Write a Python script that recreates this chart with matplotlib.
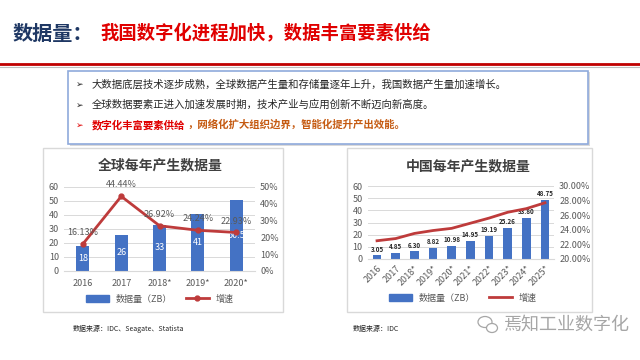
import matplotlib.pyplot as plt
import matplotlib.patches as mpatches
from matplotlib.lines import Line2D
from matplotlib.ticker import FuncFormatter

plt.rcParams['font.family'] = ['Noto Sans CJK SC', 'DejaVu Sans']

# 全球每年产生数据量
g_years = ['2016', '2017', '2018*', '2019*', '2020*']
g_volume = [18, 26, 33, 41, 50.5]
g_growth = [16.13, 44.44, 26.92, 24.24, 22.93]

# 中国每年产生数据量
c_years = ['2016', '2017', '2018*', '2019*', '2020*', '2021*', '2022*', '2023*', '2024*', '2025*']
c_volume = [3.05, 4.85, 6.30, 8.82, 10.98, 14.95, 19.19, 25.26, 33.80, 48.75]
c_growth = [22.5, 22.8, 23.5, 23.9, 24.2, 24.9, 25.6, 26.4, 26.9, 27.7]

bullets = ['大数据底层技术逐步成熟，全球数据产生量和存储量逐年上升，我国数据产生量加速增长。',
           '全球数据要素正进入加速发展时期，技术产业与应用创新不断迈向新高度。']

BLUE = '#4472C4'
RED = '#BE3B3B'
GRAY = '#595959'
W, H = 640, 360

fig = plt.figure(figsize=(6.4, 3.6), dpi=100)


def px(x, y):
    return x / W, 1 - y / H


def rect(x0, y0, x1, y1):
    return [x0 / W, 1 - y1 / H, (x1 - x0) / W, (y1 - y0) / H]


# 标题
fig.text(*px(13, 33), '数据量：', color='#1F3864', fontsize=14.5, fontweight='bold', va='center')
fig.text(*px(100, 33), '我国数字化进程加快，数据丰富要素供给', color='#E00000',
         fontsize=13.2, fontweight='bold', va='center')
fig.add_artist(Line2D([0, 1], [1 - 64 / H] * 2, color='#C00000', lw=2))
fig.add_artist(Line2D([0, 1], [1 - 66.5 / H] * 2, color='#BFBFBF', lw=0.8))

# 文字框
fig.add_artist(mpatches.Rectangle(px(70, 146), 520 / W, 74 / H, facecolor='#D9D9D9',
                                  edgecolor='none'))
fig.add_artist(mpatches.Rectangle(px(68, 144), 520 / W, 73 / H, facecolor='white',
                                  edgecolor='#8FAADC', lw=1.2))
for i, t in enumerate(bullets):
    y = 84 + i * 21
    fig.text(*px(76, y), '➢', color='#262626', fontsize=6.5, va='center',
             family=['DejaVu Sans'])
    fig.text(*px(92, y), t, color='#262626', fontsize=7.5, va='center')
fig.text(*px(76, 125), '➢', color='#E00000', fontsize=6.5, va='center', family=['DejaVu Sans'])
fig.text(*px(92, 125), '数字化丰富要素供给', color='#E00000', fontsize=7.5,
         fontweight='bold', va='center')
fig.text(*px(187, 125), '，网络化扩大组织边界，智能化提升产出效能。', color='#C55A11',
         fontsize=7.5, fontweight='bold', va='center')

# 图表边框
for x0, x1 in [(43, 283), (347, 592)]:
    fig.add_artist(mpatches.Rectangle(px(x0, 312), (x1 - x0) / W, 164 / H,
                                      facecolor='white', edgecolor='#D9D9D9', lw=1,
                                      zorder=-1))


def style(ax, ax2):
    for a in (ax, ax2):
        a.set_facecolor('none')
        for s in a.spines.values():
            s.set_visible(False)
        a.tick_params(length=0, colors=GRAY, labelsize=6.5)
    ax.set_axisbelow(True)
    ax.yaxis.grid(True, color='#D9D9D9', lw=0.7)
    ax.spines['bottom'].set_visible(True)
    ax.spines['bottom'].set_color('#D9D9D9')
    ax.set_ylim(0, 60)
    ax.set_yticks(range(0, 61, 10))


# 左图
ax = fig.add_axes(rect(63.8, 187, 255.3, 271))
ax2 = ax.twinx()
xs = range(len(g_years))
bars = ax.bar(xs, g_volume, width=0.34, color=BLUE, zorder=2)
ax.bar_label(bars, labels=[f'{v:g}' for v in g_volume], label_type='center',
             color='white', fontsize=6.5)
ax2.plot(xs, g_growth, color=RED, lw=2, marker='o', ms=3.5, zorder=3)
for x, v in zip(xs, g_growth):
    ax2.annotate(f'{v:.2f}%', (x, v), xytext=(0, 5), textcoords='offset points',
                 ha='center', va='bottom', color=GRAY, fontsize=6.5)
ax.set_xlim(-0.5, len(g_years) - 0.5)
ax.set_xticks(list(xs))
ax.set_xticklabels(g_years)
ax2.set_ylim(0, 50)
ax2.set_yticks(range(0, 51, 10))
ax2.yaxis.set_major_formatter(FuncFormatter(lambda v, p: f'{v:.0f}%'))
style(ax, ax2)
ax.tick_params(axis='x', pad=6)
fig.text(*px(160, 165), '全球每年产生数据量', ha='center', va='center', fontsize=10,
         fontweight='bold', color='#404040')
h1 = mpatches.Patch(color=BLUE, label='数据量（ZB）')
h2 = Line2D([], [], color=RED, lw=2, marker='o', ms=3.5, label='增速')
fig.legend(handles=[h1, h2], loc='center', bbox_to_anchor=px(160, 299), ncol=2,
           frameon=False, fontsize=6.5, labelcolor=GRAY, handlelength=2.5, columnspacing=1.5)

# 右图
bx = fig.add_axes(rect(367.7, 186, 554.3, 259))
bx2 = bx.twinx()
xs = range(len(c_years))
bars = bx.bar(xs, c_volume, width=0.45, color=BLUE, zorder=2)
bx.bar_label(bars, labels=[f'{v:.2f}' for v in c_volume], padding=2,
             color='#262626', fontsize=4.5, fontweight='bold')
bx2.plot(xs, c_growth, color=RED, lw=2)
bx.set_xlim(-0.5, len(c_years) - 0.5)
bx.set_xticks(list(xs))
bx.set_xticklabels(c_years, rotation=45, ha='right', rotation_mode='anchor')
bx2.set_ylim(20, 30)
bx2.set_yticks(range(20, 31, 2))
bx2.yaxis.set_major_formatter(FuncFormatter(lambda v, p: f'{v:.2f}%'))
style(bx, bx2)
fig.text(*px(468, 166), '中国每年产生数据量', ha='center', va='center', fontsize=10,
         fontweight='bold', color='#404040')
h3 = mpatches.Patch(color=BLUE, label='数据量（ZB）')
h4 = Line2D([], [], color=RED, lw=2, label='增速')
fig.legend(handles=[h3, h4], loc='center', bbox_to_anchor=px(463, 298), ncol=2,
           frameon=False, fontsize=6.5, labelcolor=GRAY, handlelength=2.5, columnspacing=1.5)

# 来源与水印
fig.text(*px(73, 329), '数据来源：IDC、Seagate、Statista', fontsize=5, color='#262626', va='center')
fig.text(*px(353, 329), '数据来源：IDC', fontsize=5, color='#262626', va='center')
fig.text(*px(630, 325), '焉知工业数字化', fontsize=13, color='#A6A6A6', ha='right', va='center')
# 微信图标（两个气泡）
fig.add_artist(mpatches.Ellipse(px(485, 322), 14 / W, 11 / H, facecolor='none',
                                edgecolor='#A6A6A6', lw=0.9))
fig.add_artist(mpatches.Ellipse(px(492, 328), 11 / W, 9 / H, facecolor='white',
                                edgecolor='#A6A6A6', lw=0.9))

fig.savefig('out.png', dpi=100)
